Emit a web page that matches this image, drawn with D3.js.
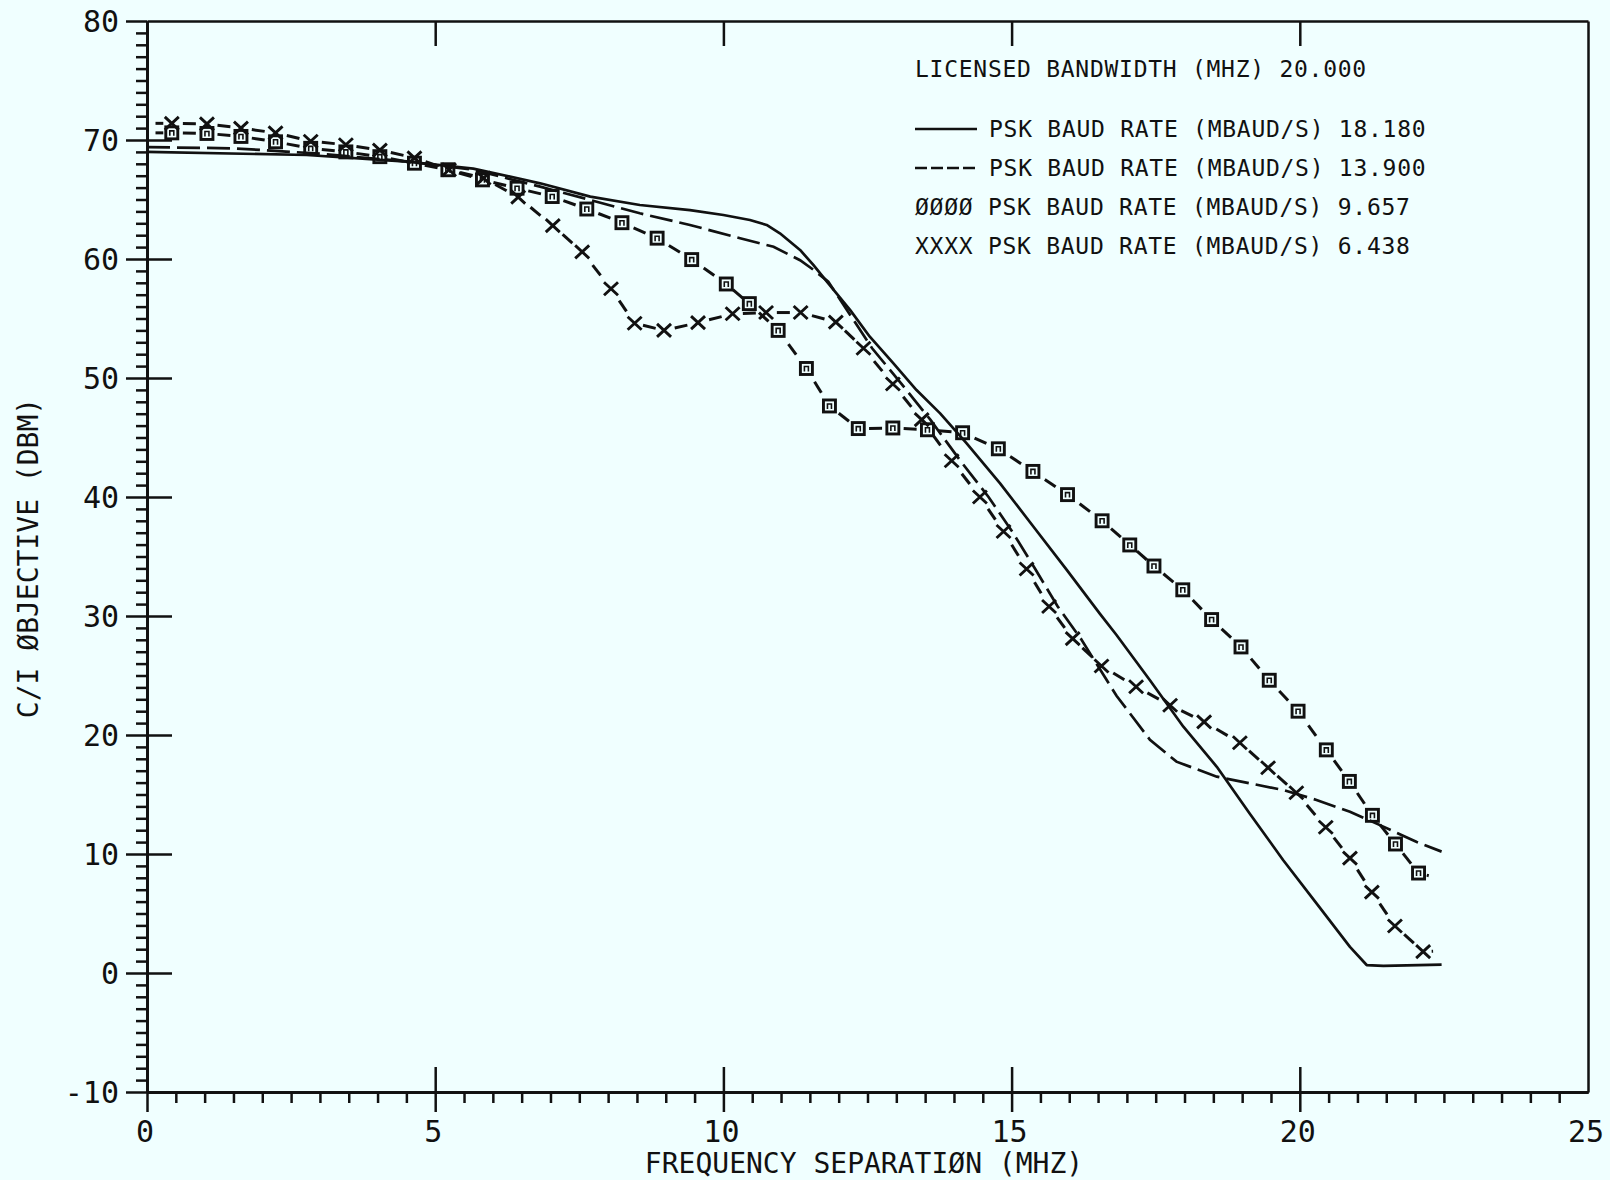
<!DOCTYPE html>
<html>
<head>
<meta charset="utf-8">
<script src="https://cdn.jsdelivr.net/npm/d3@7"></script>
<style>
  html, body { margin: 0; padding: 0; background: #f0ffff; }
  svg { display: block; }
</style>
</head>
<body>
<div id="chart"></div>
<script>
// axis ticks
const xMajorTicks = [0, 5, 10, 15, 20, 25];
const yMajorTicks = [-10, 0, 10, 20, 30, 40, 50, 60, 70, 80];

// 18.180 MBaud, solid line
const solidX = [0, 2.77, 4.51, 5.66, 6.82, 7.69, 8.55, 9.42, 10.0, 10.46, 10.75, 10.98, 11.33, 11.56, 11.82,
  12.2, 12.54, 12.95, 13.35, 13.76, 14.22, 14.8, 15.38, 15.96, 16.53, 16.82, 17.4, 17.98, 18.56, 19.13,
  19.71, 20.29, 20.87, 21.16, 21.45, 22.46];
const solidY = [69.0, 68.74, 68.18, 67.6, 66.36, 65.24, 64.54, 64.1, 63.7, 63.28, 62.86, 62.16, 60.76, 59.5, 57.96,
  55.7, 53.47, 51.23, 48.99, 47.03, 44.5, 41.15, 37.5, 33.85, 30.2, 28.4, 24.6, 20.7, 17.33, 13.4,
  9.5, 5.85, 2.2, 0.67, 0.6, 0.7];

// 13.900 MBaud, long dashes
const dashX = [0, 1.5, 3.0, 4.5, 5.66, 6.82, 7.69, 8.55, 9.42, 10.29, 10.87, 11.33, 11.56, 11.82, 12.2, 12.58,
  13.09, 13.59, 14.11, 14.6, 15.01, 15.41, 15.8, 16.2, 16.82, 17.4, 17.86, 18.56, 19.13, 19.71,
  20.29, 20.87, 21.45, 22.03, 22.46];
const dashY = [69.4, 69.3, 68.85, 68.2, 67.5, 66.08, 64.96, 63.84, 62.86, 61.74, 61.03, 59.9, 59.1, 58.1, 55.3, 52.5,
  49.5, 46.5, 43.05, 40.0, 37.1, 33.95, 30.8, 28.1, 23.3, 19.6, 17.76, 16.5, 15.94, 15.38,
  14.54, 13.55, 12.3, 11.0, 10.2];

// 9.657 MBaud, square markers (first and last points carry no marker)
const squareX = [0, 0.43, 1.04, 1.63, 2.23, 2.84, 3.45, 4.04, 4.64, 5.22, 5.82, 6.42, 7.03, 7.63, 8.24, 8.85,
  9.45, 10.05, 10.45, 10.95, 11.44, 11.84, 12.34, 12.94, 13.54, 14.15, 14.77, 15.37, 15.97, 16.57, 17.05,
  17.47, 17.97, 18.47, 18.98, 19.47, 19.97, 20.46, 20.86, 21.26, 21.66, 22.06, 22.38];
const squareY = [70.6, 70.6, 70.55, 70.3, 69.85, 69.3, 69.0, 68.6, 68.05, 67.5, 66.65, 65.95, 65.25, 64.2, 63.05, 61.75,
  59.95, 57.9, 56.25, 54.0, 50.8, 47.65, 45.75, 45.8, 45.65, 45.4, 44.05, 42.15, 40.2, 38.0, 35.97,
  34.2, 32.2, 29.7, 27.4, 24.6, 22.0, 18.75, 16.1, 13.25, 10.84, 8.4, 8.0];

// 6.438 MBaud, X markers (first and last points carry no marker)
const crossX = [0, 0.43, 1.04, 1.63, 2.23, 2.84, 3.45, 4.04, 4.64, 5.24, 5.84, 6.44, 7.04, 7.55, 8.05, 8.46,
  8.97, 9.56, 10.16, 10.74, 11.34, 11.95, 12.43, 12.94, 13.44, 13.96, 14.45, 14.86, 15.26, 15.65, 16.06,
  16.56, 17.16, 17.75, 18.34, 18.96, 19.45, 19.94, 20.45, 20.87, 21.25, 21.65, 22.14, 22.46];
const crossY = [71.4, 71.4, 71.35, 71.0, 70.6, 69.9, 69.6, 69.15, 68.5, 67.5, 66.8, 65.2, 62.8, 60.6, 57.5, 54.6,
  54.0, 54.65, 55.4, 55.5, 55.5, 54.7, 52.5, 49.5, 46.5, 43.05, 40.0, 37.1, 33.95, 30.8, 28.1,
  25.8, 24.05, 22.5, 21.1, 19.35, 17.25, 15.15, 12.25, 9.65, 6.8, 3.95, 1.8, 1.85];

const legendTitle = "LICENSED BANDWIDTH (MHZ) 20.000";
const legendRows = [
  {sym: "solid", label: "PSK BAUD RATE (MBAUD/S) 18.180"},
  {sym: "dash", label: "PSK BAUD RATE (MBAUD/S) 13.900"},
  {sym: "ØØØØ", label: "PSK BAUD RATE (MBAUD/S) 9.657"},
  {sym: "XXXX", label: "PSK BAUD RATE (MBAUD/S) 6.438"}
];
const xTitle = "FREQUENCY SEPARATIØN (MHZ)";
const yTitle = "C/I ØBJECTIVE (DBM)";

const W = 1610, H = 1180;
const INK = "#111";
const FONT = '"DejaVu Sans Mono", monospace';

const svg = d3.select("#chart").append("svg")
    .attr("width", W).attr("height", H)
    .attr("viewBox", [0, 0, W, H]);

svg.append("rect").attr("width", W).attr("height", H).attr("fill", "#f0ffff");

const x = d3.scaleLinear().domain([0, 25]).range([147, 1588]);
const y = d3.scaleLinear().domain([-10, 80]).range([1092, 21]);

function styleAxis(g) {
    g.selectAll("path, line").attr("stroke", INK).attr("stroke-width", 2.5);
    g.selectAll("text").remove();
}

// bottom axis: half-unit minor ticks below, majors crossing the line
const xMinor = d3.range(0.5, 25, 0.5).filter(v => v % 5 !== 0);
svg.append("g").attr("transform", `translate(0,${y(-10)})`)
    .call(d3.axisBottom(x).tickValues(xMinor).tickSize(11).tickSizeOuter(0).tickFormat(""))
    .call(styleAxis);
svg.append("g").attr("transform", `translate(0,${y(-10)})`)
    .call(d3.axisBottom(x).tickValues(xMajorTicks.slice(0, 5)).tickSize(20).tickSizeOuter(0).tickFormat(""))
    .call(styleAxis);
svg.append("g").attr("transform", `translate(0,${y(-10)})`)
    .call(d3.axisTop(x).tickValues(xMajorTicks.slice(1, 5)).tickSize(25).tickSizeOuter(0).tickFormat(""))
    .call(styleAxis);

// top frame with inward ticks
svg.append("g").attr("transform", `translate(0,${y(80)})`)
    .call(d3.axisBottom(x).tickValues(xMajorTicks.slice(1, 5)).tickSize(25).tickSizeOuter(0).tickFormat(""))
    .call(styleAxis);

// left axis: unit minor ticks outside, majors crossing
const yMinor = d3.range(-9, 80, 1).filter(v => v % 10 !== 0);
svg.append("g").attr("transform", `translate(${x(0)},0)`)
    .call(d3.axisLeft(y).tickValues(yMinor).tickSize(11).tickSizeOuter(0).tickFormat(""))
    .call(styleAxis);
svg.append("g").attr("transform", `translate(${x(0)},0)`)
    .call(d3.axisLeft(y).tickValues(yMajorTicks).tickSize(21).tickSizeOuter(0).tickFormat(""))
    .call(styleAxis);
svg.append("g").attr("transform", `translate(${x(0)},0)`)
    .call(d3.axisRight(y).tickValues(yMajorTicks.slice(1, 9)).tickSize(25).tickSizeOuter(0).tickFormat(""))
    .call(styleAxis);

// right frame
svg.append("g").attr("transform", `translate(${x(25)},0)`)
    .call(d3.axisLeft(y).tickValues([]).tickSizeOuter(0))
    .call(styleAxis);

// tick labels
svg.append("g").selectAll("text").data(yMajorTicks).join("text")
    .attr("x", 119).attr("y", d => y(d) + 10.5)
    .attr("text-anchor", "end")
    .attr("font-family", FONT).attr("font-size", 30).attr("fill", INK)
    .text(d => d);

svg.append("g").selectAll("text").data(xMajorTicks).join("text")
    .attr("x", d => x(d) - 2).attr("y", 1142)
    .attr("text-anchor", "middle")
    .attr("font-family", FONT).attr("font-size", 30).attr("fill", INK)
    .text(d => d);

// axis titles
svg.append("text")
    .attr("x", 864).attr("y", 1173)
    .attr("text-anchor", "middle")
    .attr("font-family", FONT).attr("font-size", 28).attr("fill", INK)
    .text(xTitle);

svg.append("text")
    .attr("transform", "translate(38,558) rotate(-90)")
    .attr("text-anchor", "middle")
    .attr("font-family", FONT).attr("font-size", 28).attr("fill", INK)
    .text(yTitle);

// curves
const toPts = (xs, ys) => xs.map((v, i) => [v, ys[i]]);
const line = d3.line().x(d => x(d[0])).y(d => y(d[1]));

svg.append("path")
    .attr("d", line(toPts(solidX, solidY)))
    .attr("fill", "none").attr("stroke", INK).attr("stroke-width", 2.7)
    .attr("stroke-linejoin", "round");

svg.append("path")
    .attr("d", line(toPts(dashX, dashY)))
    .attr("fill", "none").attr("stroke", INK).attr("stroke-width", 2.7)
    .attr("stroke-dasharray", "23,7");

// marker series: short dash between neighbouring points, then glyphs
function markerSeries(xs, ys, kind) {
    const pts = toPts(xs, ys).map(d => [x(d[0]), y(d[1])]);
    const g = svg.append("g");
    const segs = d3.pairs(pts).map(([a, b]) => {
        const dx = b[0] - a[0], dy = b[1] - a[1];
        const len = Math.hypot(dx, dy);
        const half = Math.min(6.5, Math.max(0, (len - 17) / 2));
        const mx = (a[0] + b[0]) / 2, my = (a[1] + b[1]) / 2;
        return [mx - dx / len * half, my - dy / len * half, mx + dx / len * half, my + dy / len * half];
    });
    g.selectAll("line.seg").data(segs).join("line")
        .attr("x1", d => d[0]).attr("y1", d => d[1])
        .attr("x2", d => d[2]).attr("y2", d => d[3])
        .attr("stroke", INK).attr("stroke-width", 3);

    const marks = g.selectAll("g.mark").data(pts.slice(1, -1)).join("g")
        .attr("transform", d => `translate(${d[0]},${d[1]})`);
    if (kind === "square") {
        marks.append("rect")
            .attr("x", -6).attr("y", -6).attr("width", 12).attr("height", 12)
            .attr("fill", "none").attr("stroke", INK).attr("stroke-width", 2.9);
        marks.append("path")
            .attr("d", "M-2,3V-2H2V3")
            .attr("fill", "none").attr("stroke", INK).attr("stroke-width", 1.6);
    } else {
        marks.append("path")
            .attr("d", "M-7,-6.5L7,6.5M7,-6.5L-7,6.5")
            .attr("fill", "none").attr("stroke", INK).attr("stroke-width", 2.9);
    }
}
markerSeries(squareX, squareY, "square");
markerSeries(crossX, crossY, "cross");

// legend
const legend = svg.append("g").attr("font-family", FONT).attr("font-size", 23)
    .attr("letter-spacing", 0.73).attr("fill", INK);
legend.append("text").attr("x", 915).attr("y", 77).text(legendTitle);

const rowY = [137, 176, 215, 254];
legendRows.forEach((r, i) => {
    const by = rowY[i];
    if (r.sym === "solid" || r.sym === "dash") {
        legend.append("line")
            .attr("x1", 915).attr("x2", 977).attr("y1", by - 8).attr("y2", by - 8)
            .attr("stroke", INK).attr("stroke-width", 2.5)
            .attr("stroke-dasharray", r.sym === "dash" ? "12,4" : null);
        legend.append("text").attr("x", 989).attr("y", by).text(r.label);
    } else {
        legend.append("text").attr("x", 915).attr("y", by).text(r.sym + " " + r.label);
    }
});
</script>
</body>
</html>
